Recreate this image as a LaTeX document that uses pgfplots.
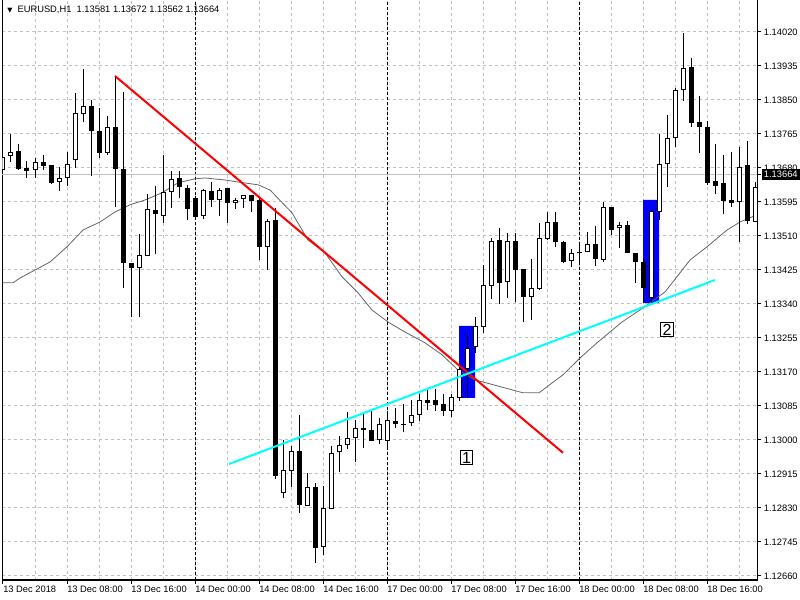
\documentclass[border=0pt]{standalone}
\usepackage{pgfplots}
\pgfplotsset{compat=1.18}
\usepackage{pgfplotstable}
\usepackage{fontspec}
\setmainfont{Liberation Sans}
\newfontfamily\dejavu{DejaVu Sans}
\definecolor{gridc}{RGB}{192,192,192}
\definecolor{mac}{RGB}{100,100,100}
\definecolor{aqua}{RGB}{0,255,255}
\definecolor{pureblue}{RGB}{0,0,255}
\definecolor{purered}{RGB}{255,0,0}

% bullish (white) candles: bar index, open, high, low, close
\pgfplotstableread{
i o h l c
0 1.13675 1.13746 1.13668 1.13708
1 1.13711 1.13765 1.13696 1.13719
4 1.13674 1.13704 1.13654 1.13694
7 1.13645 1.13683 1.13623 1.13655
8 1.13654 1.13719 1.13636 1.13689
9 1.13699 1.13868 1.13679 1.13817
10 1.13814 1.13928 1.13794 1.13834
13 1.13718 1.13809 1.13712 1.13782
17 1.13429 1.13515 1.13307 1.13462
18 1.13460 1.13615 1.13460 1.13578
20 1.13561 1.13712 1.13543 1.13619
21 1.13619 1.13672 1.13581 1.13652
25 1.13561 1.13627 1.13552 1.13625
27 1.13600 1.13629 1.13560 1.13625
29 1.13592 1.13604 1.13578 1.13599
30 1.13603 1.13612 1.13581 1.13612
33 1.13483 1.13552 1.13425 1.13548
35 1.12867 1.13000 1.12856 1.12925
36 1.12922 1.12985 1.12883 1.12973
38 1.12836 1.12918 1.12836 1.12882
40 1.12732 1.12885 1.12713 1.12829
41 1.12827 1.12985 1.12827 1.12967
42 1.12969 1.13010 1.12921 1.12987
43 1.12987 1.13070 1.12977 1.13004
44 1.13004 1.13050 1.12946 1.13029
47 1.12999 1.13054 1.12989 1.13040
48 1.12998 1.13073 1.12978 1.13049
51 1.13042 1.13100 1.13035 1.13062
52 1.13062 1.13114 1.13048 1.13100
56 1.13073 1.13114 1.13057 1.13107
57 1.13104 1.13192 1.13098 1.13177
58 1.13177 1.13267 1.13104 1.13229
59 1.13232 1.13308 1.13217 1.13286
60 1.13283 1.13438 1.13268 1.13388
61 1.13384 1.13505 1.13353 1.13497
63 1.13395 1.13517 1.13356 1.13497
66 1.13357 1.13453 1.13300 1.13379
67 1.13378 1.13543 1.13375 1.13504
68 1.13503 1.13570 1.13500 1.13544
71 1.13447 1.13478 1.13433 1.13467
73 1.13469 1.13520 1.13469 1.13489
75 1.13450 1.13594 1.13446 1.13582
77 1.13529 1.13544 1.13481 1.13537
81 1.13355 1.13573 1.13345 1.13573
82 1.13571 1.13765 1.13550 1.13689
83 1.13689 1.13813 1.13633 1.13754
84 1.13754 1.13879 1.13733 1.13875
85 1.13875 1.14018 1.13848 1.13929
92 1.13594 1.13733 1.13496 1.13683
94 1.13546 1.13645 1.13545 1.13632
}\bull

% bearish (black) candles
\pgfplotstableread{
i o h l c
2 1.13722 1.13740 1.13675 1.13677
3 1.13680 1.13697 1.13654 1.13673
5 1.13694 1.13712 1.13675 1.13686
6 1.13687 1.13687 1.13639 1.13643
11 1.13835 1.13849 1.13661 1.13772
12 1.13773 1.13829 1.13706 1.13718
14 1.13783 1.13910 1.13583 1.13677
15 1.13678 1.13869 1.13381 1.13442
16 1.13442 1.13442 1.13307 1.13429
19 1.13575 1.13635 1.13464 1.13564
22 1.13654 1.13672 1.13606 1.13633
23 1.13629 1.13637 1.13550 1.13578
24 1.13604 1.13610 1.13555 1.13558
26 1.13622 1.13645 1.13583 1.13600
28 1.13629 1.13629 1.13543 1.13592
31 1.13613 1.13613 1.13571 1.13598
32 1.13600 1.13605 1.13450 1.13483
34 1.13550 1.13579 1.12903 1.12911
37 1.12973 1.13063 1.12818 1.12838
39 1.12882 1.12892 1.12693 1.12731
45 1.13029 1.13069 1.12981 1.13026
46 1.13024 1.13077 1.12998 1.12998
49 1.13048 1.13079 1.13030 1.13040
50 1.13041 1.13090 1.13019 1.13037
53 1.13100 1.13128 1.13075 1.13093
54 1.13100 1.13127 1.13073 1.13088
55 1.13090 1.13114 1.13060 1.13073
62 1.13499 1.13529 1.13339 1.13392
64 1.13497 1.13517 1.13344 1.13424
65 1.13428 1.13428 1.13295 1.13357
69 1.13544 1.13570 1.13483 1.13496
70 1.13495 1.13498 1.13443 1.13446
72 1.13470 1.13487 1.13443 1.13467
74 1.13490 1.13535 1.13436 1.13453
76 1.13582 1.13582 1.13512 1.13526
78 1.13537 1.13547 1.13468 1.13468
79 1.13467 1.13467 1.13393 1.13446
80 1.13444 1.13455 1.13345 1.13381
86 1.13932 1.13954 1.13783 1.13792
87 1.13794 1.13860 1.13718 1.13783
88 1.13782 1.13798 1.13637 1.13643
89 1.13648 1.13740 1.13615 1.13636
90 1.13642 1.13712 1.13564 1.13598
91 1.13599 1.13719 1.13582 1.13593
93 1.13687 1.13747 1.13540 1.13548
}\bear

\pgfplotsset{
  candle/.style={only marks, mark=*, mark size=0pt, mark options={draw=none, fill=none}, forget plot,
    error bars/.cd, y dir=plus, y explicit, error mark=none},
}

\begin{document}
\begin{tikzpicture}
\path[use as bounding box] (0pt,0pt) rectangle (600pt,450pt);
\begin{axis}[
  at={(1.875pt,15pt)}, anchor=south west,
  scale only axis, width=565.875pt, height=435pt,
  xmin=-0.0625, xmax=94.25, ymin=1.1265, ymax=1.141,
  axis line style={black, line width=0.75pt},
  tick style={black, line width=0.75pt},
  tick align=outside, major tick length=3pt, minor tick length=0pt,
  xtick={0,8,...,88},
  xticklabels={13 Dec 2018, 13 Dec 08:00, 13 Dec 16:00, 14 Dec 00:00, 14 Dec 08:00, 14 Dec 16:00, 17 Dec 00:00, 17 Dec 08:00, 17 Dec 16:00, 18 Dec 00:00, 18 Dec 08:00, 18 Dec 16:00},
  minor xtick={4,12,...,92},
  xtick pos=lower, ytick pos=right, yticklabel pos=right,
  ytick={1.1266,1.12745,1.1283,1.12915,1.13,1.13085,1.1317,1.13255,1.1334,1.13425,1.1351,1.13595,1.1368,1.13765,1.1385,1.13935,1.1402},
  yticklabels={1.12660,1.12745,1.12830,1.12915,1.13000,1.13085,1.13170,1.13255,1.13340,1.13425,1.13510,1.13595,1.13680,1.13765,1.13850,1.13935,1.14020},
  grid=both,
  major grid style={gridc, line width=0.75pt, dash pattern=on 2.25pt off 2.25pt},
  minor grid style={gridc, line width=0.75pt, dash pattern=on 2.25pt off 2.25pt},
  ticklabel style={font=\fontsize{7}{8}\selectfont, inner sep=0pt},
  xticklabel style={anchor=north west, yshift=-1pt},
  yticklabel style={anchor=west, xshift=2pt},
  extra x ticks={24,48,72}, extra x tick labels={,,},
  extra x tick style={grid=major, major grid style={black, line width=0.75pt, dash pattern=on 2.25pt off 1.5pt}, major tick length=0pt},
  extra y ticks={1.13664}, extra y tick labels={1.13664},
  extra y tick style={grid=major, major grid style={gridc, solid, line width=0.75pt}, yticklabel style={fill=black, text=white, inner xsep=1.5pt, inner ysep=1.6pt, xshift=-1.5pt}},
]
% highlight rectangles
\addplot[fill=pureblue, draw=none, forget plot] coordinates {(57,1.13105) (59,1.13105) (59,1.13285) (57,1.13285) (57,1.13105)};
\addplot[fill=pureblue, draw=none, forget plot] coordinates {(80,1.133425) (82,1.133425) (82,1.1360) (80,1.1360) (80,1.133425)};
% moving average
\addplot[mac, line width=0.6pt] coordinates {
(-0.125,1.13393) (1.25,1.13393) (2.125,1.13405) (4,1.13425) (5.875,1.13445) (8,1.13483) (10,1.13525) (12.125,1.13545) (14,1.13570) (15.875,1.13588) (17.75,1.13600) (19.875,1.13618) (21.875,1.13643) (24,1.13653) (25.25,1.13655) (27.75,1.13650) (29.375,1.13645) (31.875,1.13638) (33.375,1.13625) (36.125,1.13568) (38.125,1.13500) (40.25,1.13468) (42.375,1.13408) (44.375,1.13368) (46.125,1.13325) (48.125,1.13295) (50.25,1.13270) (52.75,1.13243) (54.875,1.13213) (56.875,1.13175) (59,1.13150) (60,1.13145) (65,1.13118) (67,1.13118) (70,1.13163) (72.125,1.13205) (74.25,1.13243) (75.875,1.13270) (77.375,1.13295) (79.625,1.13325) (82.75,1.13370) (85.875,1.13450) (88,1.13483) (90.5,1.13525) (92.125,1.13545) (94.25,1.13563)};
% wicks
\addplot[candle, error bar style={black, line width=0.75pt}] table[x=i, y=l, y error expr={\thisrow{h}-\thisrow{l}}] {\bull};
\addplot[candle, error bar style={black, line width=0.75pt}] table[x=i, y=l, y error expr={\thisrow{h}-\thisrow{l}}] {\bear};
% bodies
\addplot[candle, error bar style={black, line width=3.75pt}] table[x=i, y=c, y error expr={\thisrow{o}-\thisrow{c}}] {\bear};
\addplot[candle, error bar style={black, line width=3.75pt}] table[x=i, y=o, y error expr={\thisrow{c}-\thisrow{o}}] {\bull};
\addplot[candle, error bar style={white, line width=2.25pt, shorten <=0.75pt, shorten >=0.75pt}] table[x=i, y=o, y error expr={\thisrow{c}-\thisrow{o}}] {\bull};
% trend lines
\addplot[purered, line width=1.5pt] coordinates {(14,1.13910) (70,1.12968)};
\addplot[aqua, line width=1.5pt] coordinates {(28.25,1.12940) (89,1.13400)};
% labels
\node[draw=black, fill=white, inner xsep=1.5pt, inner ysep=1.2pt, line width=0.75pt, font=\fontsize{12}{12}\selectfont] at (axis cs:57.94,1.12956) {1};
\node[draw=black, fill=white, inner xsep=1.5pt, inner ysep=1.2pt, line width=0.75pt, font=\fontsize{12}{12}\selectfont] at (axis cs:83,1.13276) {2};
\end{axis}
\node[anchor=west, inner sep=0pt, font=\fontsize{7}{8}\selectfont] at (5.25pt,442.5pt) {{\dejavu\fontsize{5}{6}\selectfont ▼}\ \ EURUSD,H1\ \ 1.13581 1.13672 1.13562 1.13664};
\end{tikzpicture}
\end{document}
